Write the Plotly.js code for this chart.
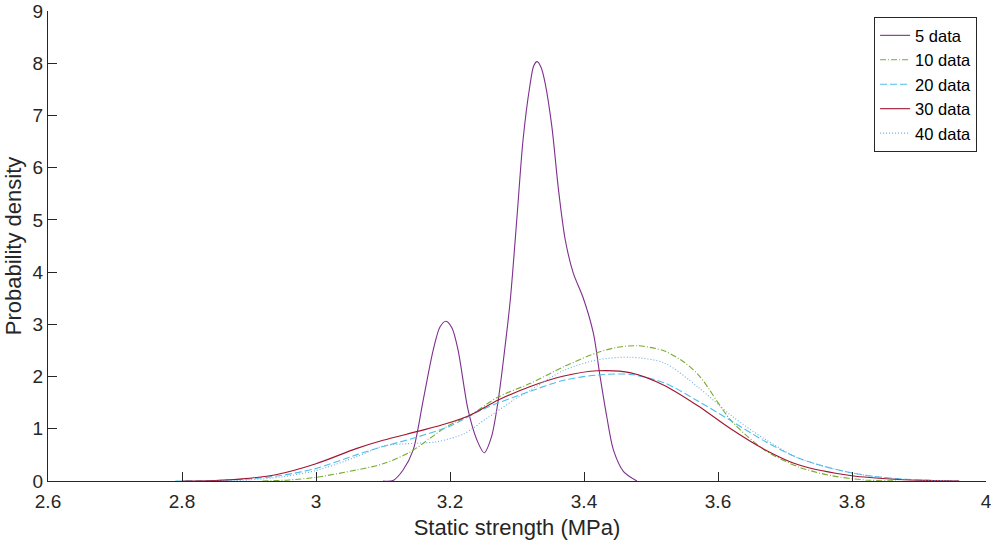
<!DOCTYPE html>
<html>
<head>
<meta charset="utf-8">
<script src="https://cdn.plot.ly/plotly-3.0.1.min.js"></script>
<style>html,body{margin:0;padding:0;background:#fff;}#chart{width:991px;height:543px;}</style>
</head>
<body>
<div id="chart"></div>
<script>
const seriesNames = ["5 data", "10 data", "20 data", "30 data", "40 data"];

const x5 = [3.10, 3.115, 3.13, 3.145, 3.16, 3.175, 3.185, 3.194, 3.203, 3.212, 3.227, 3.24, 3.251, 3.262, 3.272, 3.281, 3.29, 3.30, 3.309, 3.319, 3.325, 3.330, 3.336, 3.342, 3.352, 3.362, 3.372, 3.384, 3.399, 3.414, 3.424, 3.434, 3.444, 3.459, 3.479];
const y5 = [0, 0.01, 0.21, 0.59, 1.55, 2.51, 2.95, 3.06, 2.93, 2.51, 1.36, 0.79, 0.54, 0.85, 1.55, 2.45, 3.47, 5.06, 6.53, 7.55, 7.95, 8.03, 7.92, 7.62, 6.79, 5.57, 4.62, 3.98, 3.50, 2.83, 2.00, 1.23, 0.59, 0.18, 0.0];

const x10 = [2.92, 2.96, 3.0, 3.06, 3.10, 3.14, 3.195, 3.23, 3.272, 3.32, 3.37, 3.42, 3.45, 3.48, 3.52, 3.55, 3.573, 3.62, 3.67, 3.72, 3.77, 3.82, 3.87];
const y10 = [0, 0.02, 0.07, 0.21, 0.33, 0.55, 1.04, 1.26, 1.61, 1.87, 2.19, 2.46, 2.56, 2.59, 2.49, 2.27, 2.0, 1.15, 0.59, 0.27, 0.10, 0.02, 0];

const x20 = [2.79, 2.85, 2.9, 2.95, 3.0, 3.06, 3.10, 3.14, 3.2, 3.25, 3.32, 3.37, 3.42, 3.47, 3.52, 3.57, 3.62, 3.67, 3.72, 3.77, 3.82, 3.87, 3.92, 3.96];
const y20 = [0, 0.01, 0.04, 0.11, 0.24, 0.50, 0.66, 0.80, 1.05, 1.38, 1.72, 1.93, 2.03, 2.04, 1.88, 1.53, 1.15, 0.76, 0.44, 0.24, 0.11, 0.04, 0.01, 0];

const x30 = [2.80, 2.85, 2.89, 2.94, 3.0, 3.06, 3.10, 3.155, 3.195, 3.23, 3.272, 3.32, 3.37, 3.42, 3.47, 3.52, 3.57, 3.62, 3.67, 3.72, 3.80, 3.87, 3.92, 3.96];
const y30 = [0, 0.01, 0.04, 0.12, 0.33, 0.62, 0.78, 0.96, 1.10, 1.26, 1.55, 1.81, 2.01, 2.11, 2.07, 1.83, 1.44, 0.99, 0.60, 0.31, 0.10, 0.03, 0.01, 0];

const x40 = [2.85, 2.9, 2.95, 3.0, 3.06, 3.10, 3.13, 3.18, 3.22, 3.255, 3.295, 3.32, 3.37, 3.42, 3.47, 3.52, 3.57, 3.62, 3.67, 3.72, 3.77, 3.82, 3.87, 3.95];
const y40 = [0, 0.02, 0.08, 0.2, 0.46, 0.67, 0.71, 0.75, 0.90, 1.20, 1.55, 1.74, 2.12, 2.32, 2.37, 2.26, 1.80, 1.25, 0.80, 0.44, 0.24, 0.11, 0.04, 0];

const xTicks = [2.6, 2.8, 3, 3.2, 3.4, 3.6, 3.8, 4];
const xTickText = ["2.6", "2.8", "3", "3.2", "3.4", "3.6", "3.8", "4"];
const yTicks = [0, 1, 2, 3, 4, 5, 6, 7, 8, 9];

const xs = [x5, x10, x20, x30, x40];
const ys = [y5, y10, y20, y30, y40];
const colors = ["#7E2F8E", "#77AC30", "#4DBEEE", "#A2142F", "#6AAEE6"];
const dashes = ["solid", "6px,2px,1px,2px", "7px,3px", "solid", "1px,2px"];

const traces = seriesNames.map((n, i) => ({
  x: xs[i], y: ys[i], name: n, type: "scatter", mode: "lines",
  line: {color: colors[i], width: 1.1, dash: dashes[i], shape: "spline", smoothing: 0.8}
}));

const font = "'Liberation Sans', Arial, Helvetica, sans-serif";
const layout = {
  width: 991, height: 543,
  margin: {l: 48, r: 5, t: 11, b: 62},
  paper_bgcolor: "#fff", plot_bgcolor: "#fff",
  font: {family: font, color: "#262626", size: 18},
  showlegend: true,
  legend: {
    x: 0.9905, xanchor: "right", y: 0.987, yanchor: "top",
    bgcolor: "#fff", bordercolor: "#262626", borderwidth: 1,
    font: {family: font, size: 16.5, color: "#000"},
    tracegroupgap: 0, itemwidth: 30
  },
  xaxis: {
    range: [2.6, 4], tickmode: "array", tickvals: xTicks, ticktext: xTickText,
    ticks: "inside", ticklen: 9, tickwidth: 1, tickcolor: "#262626",
    showline: true, linecolor: "#262626", linewidth: 1,
    showgrid: false, zeroline: false, mirror: false, automargin: false,
    ticklabeloverflow: "allow",
    tickfont: {size: 19, color: "#262626"}, ticklabelstandoff: 3,
    title: {text: "Static strength (MPa)", font: {size: 22, color: "#262626"}, standoff: 8}
  },
  yaxis: {
    range: [0, 9], tickmode: "array", tickvals: yTicks,
    ticks: "inside", ticklen: 9, tickwidth: 1, tickcolor: "#262626",
    showline: true, linecolor: "#262626", linewidth: 1,
    showgrid: false, zeroline: false, mirror: false, automargin: false,
    ticklabeloverflow: "allow",
    tickfont: {size: 19, color: "#262626"},
    title: {text: "Probability density", font: {size: 22, color: "#262626"}, standoff: 4}
  }
};

Plotly.newPlot("chart", traces, layout, {displayModeBar: false, staticPlot: true});
</script>
</body>
</html>
